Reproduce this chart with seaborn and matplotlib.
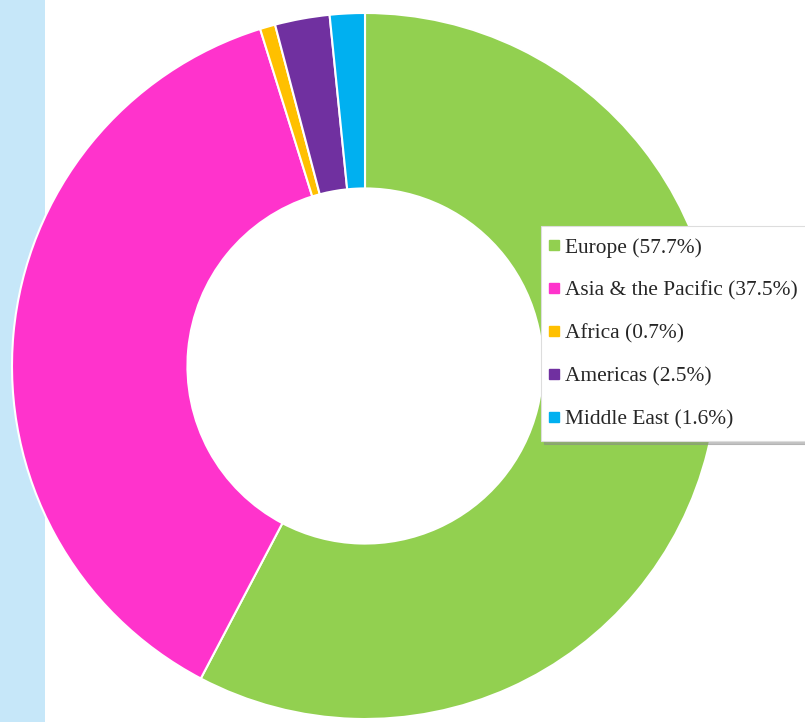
import matplotlib
matplotlib.use("Agg")
import matplotlib.pyplot as plt
import seaborn as sns
from matplotlib.patches import Rectangle
from matplotlib.lines import Line2D

regions = ["Europe", "Asia & the Pacific", "Africa", "Americas", "Middle East"]
shares = [57.7, 37.5, 0.7, 2.5, 1.6]
colors = ["#92d050", "#ff33cc", "#ffc000", "#7030a0", "#00b0f0"]
labels = [f"{r} ({v}%)" for r, v in zip(regions, shares)]

sns.set_theme(style="white")
plt.rcParams['font.family'] = ['Liberation Serif', 'DejaVu Serif']

W, H = 805, 722
fig = plt.figure(figsize=(W / 100, H / 100), dpi=100)
fig.patch.set_facecolor("white")

# light blue strip on the left (behind the donut)
fig.patches.append(Rectangle((0, 0), 45 / W, 1, transform=fig.transFigure,
                             facecolor="#c6e7f9", edgecolor="none", zorder=-5))

cx, cy, r = 365, 366, 353
ax = fig.add_axes([(cx - r) / W, (H - cy - r) / H, 2 * r / W, 2 * r / H])
ax.set_zorder(2)
ax.patch.set_alpha(0)
wedges, _ = ax.pie(shares, colors=colors, startangle=90, counterclock=False,
                   radius=1.0,
                   wedgeprops=dict(width=0.497, edgecolor="white", linewidth=1.5))
ax.set_xlim(-1, 1)
ax.set_ylim(-1, 1)
ax.set_aspect("equal")
ax.axis("off")

handles = [Line2D([], [], marker="s", linestyle="none", markersize=7,
                  markerfacecolor=c, markeredgecolor=c) for c in colors]
leg = fig.legend(handles, labels, loc="upper left",
                 bbox_to_anchor=(541 / W, 1 - 226 / H, 300 / W, 0), mode="expand",
                 frameon=True, fancybox=False, shadow={'color': '#888888', 'alpha': 0.5},
                 prop={'family': ['Liberation Serif'], 'size': 15.4},
                 handlelength=0.1, handletextpad=0.45, labelspacing=1.07,
                 borderpad=0.55, borderaxespad=0)
leg.set_zorder(5)
leg.get_frame().set_facecolor("white")
leg.get_frame().set_edgecolor("#dddddd")
leg.get_frame().set_linewidth(0.8)

fig.savefig("out.png", dpi=100, facecolor="white")
